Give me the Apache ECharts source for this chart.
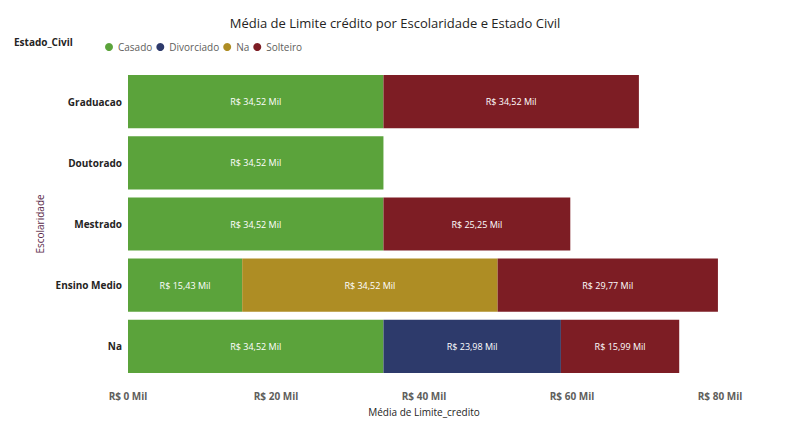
<!DOCTYPE html>
<html><head><meta charset="utf-8">
<script src="https://cdn.jsdelivr.net/npm/echarts@6/dist/echarts.min.js"></script>
<style>html,body{margin:0;background:#fff}#c{width:790px;height:436px}</style>
</head><body><div id="c"></div>
<script>
const categories = ['Na', 'Ensino Medio', 'Mestrado', 'Doutorado', 'Graduacao'];
const casado     = [34.52, 15.43, 34.52, 34.52, 34.52];
const divorciado = [23.98, null, null, null, null];
const na         = [null, 34.52, null, null, null];
const solteiro   = [15.99, 29.77, 25.25, null, 34.52];
const xTicks = [0, 20, 40, 60, 80];

const COLORS = { Casado: '#5BA33B', Divorciado: '#2D3A6B', Na: '#AE8D24', Solteiro: '#7D1D24' };
const fmt = v => 'R$ ' + v.toFixed(2).replace('.', ',') + ' Mil';
const FONT = 'Segoe UI, "Open Sans", sans-serif';

const c = echarts.init(document.getElementById('c'), null, { renderer: 'svg' });
const mk = (name, data) => ({
  name, type: 'bar', stack: 'total', data, barCategoryGap: '13%',
  itemStyle: { color: COLORS[name] },
  label: { show: true, position: 'inside', color: '#fff', fontSize: 9, fontFamily: FONT,
           formatter: p => p.value == null ? '' : fmt(p.value) },
});
c.setOption({
  animation: false,
  textStyle: { fontFamily: FONT },
  title: { text: 'Média de Limite crédito por Escolaridade e Estado Civil', left: 'center', top: 11,
           textStyle: { fontSize: 13, fontWeight: 'normal', color: '#252423' } },
  graphic: [{ type: 'text', left: 14, top: 37, style: { text: 'Estado_Civil', fontSize: 10, fontWeight: 'bold', fill: '#252423', fontFamily: FONT } }],
  legend: { left: 100, top: 37, icon: 'circle', itemWidth: 8, itemHeight: 8, itemGap: 4,
            textStyle: { fontSize: 10, color: '#605E5C' } },
  grid: { left: 128, right: 70, top: 71, bottom: 59 },
  xAxis: { type: 'value', min: 0, max: 80, interval: 20,
           name: 'Média de Limite_credito', nameLocation: 'middle', nameGap: 30,
           nameTextStyle: { fontSize: 10, color: '#252423' },
           axisLine: { show: false }, axisTick: { show: false }, splitLine: { show: false },
           axisLabel: { color: '#605E5C', fontSize: 10, fontWeight: 'bold', margin: 14,
                        formatter: v => xTicks.includes(v) ? 'R$ ' + v + ' Mil' : '' } },
  yAxis: { type: 'category', data: categories,
           name: 'Escolaridade', nameLocation: 'middle', nameGap: 68, nameRotate: 90,
           nameTextStyle: { fontSize: 10, color: '#5A2A4A' },
           axisLine: { show: false }, axisTick: { show: false },
           axisLabel: { color: '#252423', fontSize: 10, fontWeight: 'bold', margin: 6 } },
  series: [mk('Casado', casado), mk('Divorciado', divorciado), mk('Na', na), mk('Solteiro', solteiro)],
});
</script></body></html>
